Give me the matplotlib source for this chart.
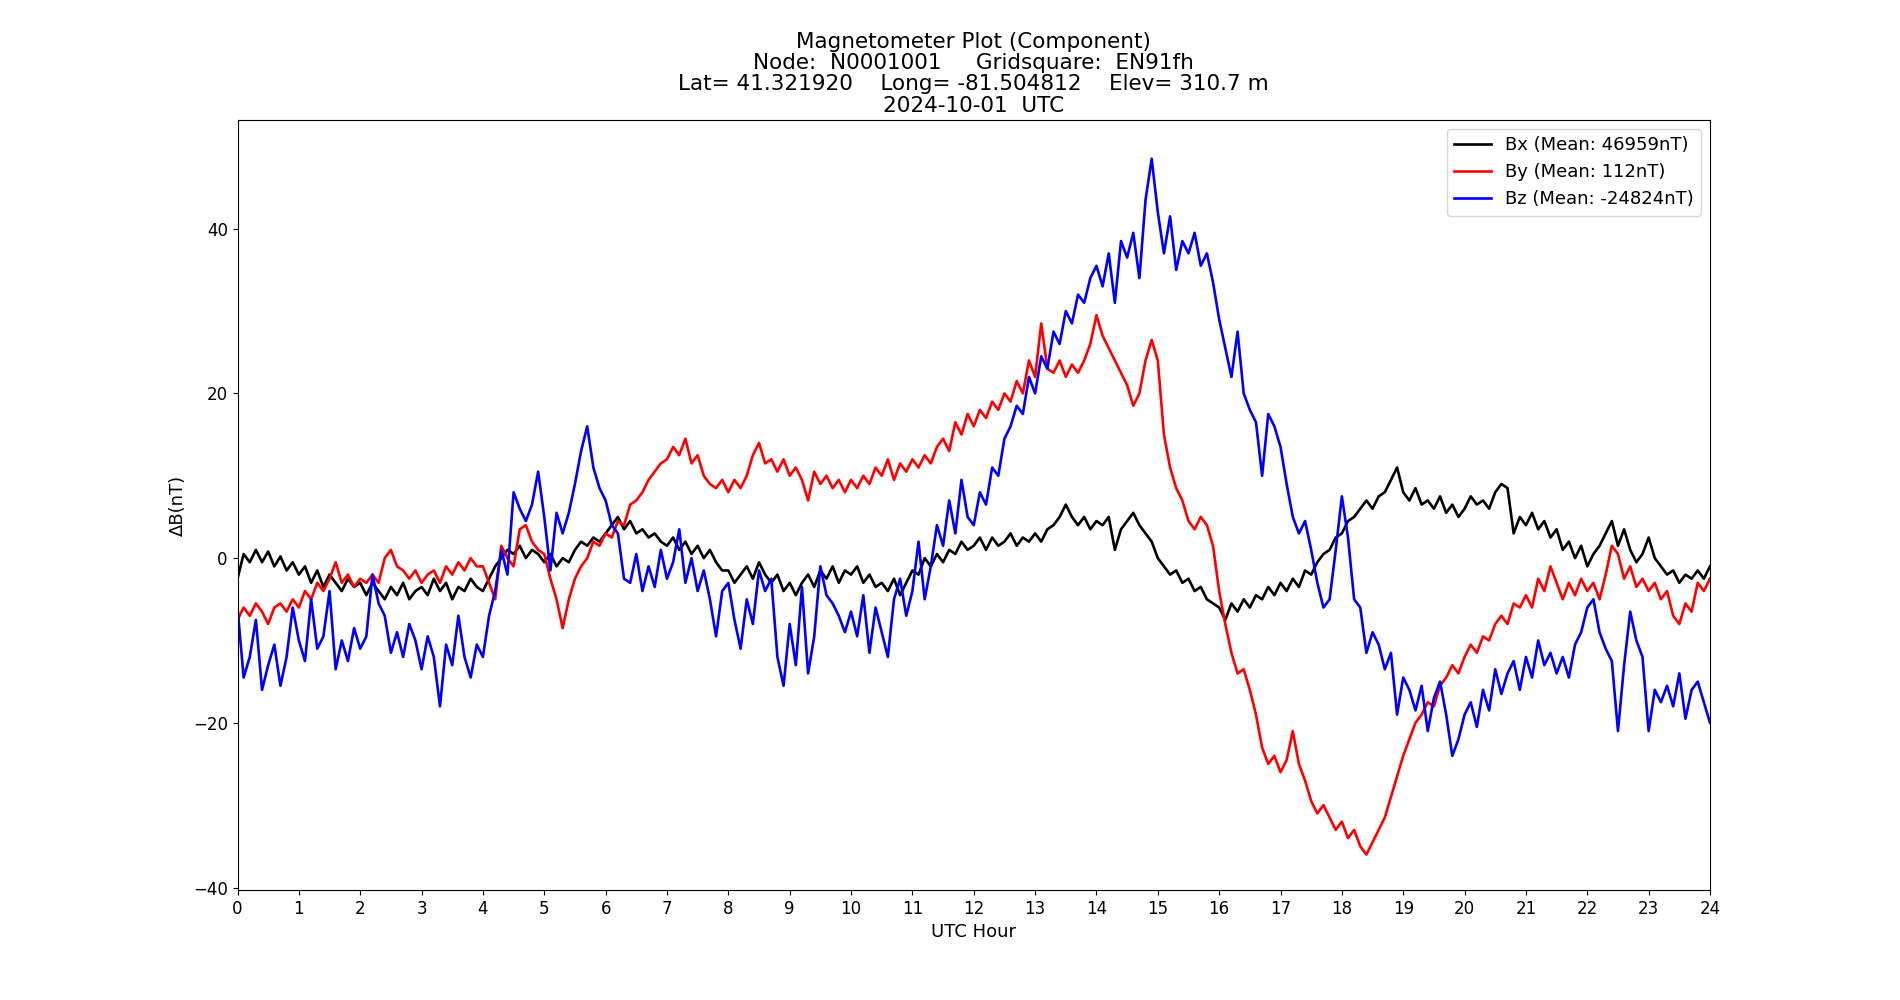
import numpy as np
import matplotlib
matplotlib.use('Agg')
import matplotlib.pyplot as plt

# UTC hour axis, one sample every 0.1 h
hours = np.round(np.arange(0, 241) * 0.1, 1)

bx = [
    -2.5, 0.5, -0.5, 1.0, -0.5, 0.8, -1.0, 0.2, -1.5, -0.5,
    -2.0, -1.0, -3.0, -1.5, -3.5, -2.0, -3.0, -4.0, -2.5, -3.5,
    -3.0, -4.5, -3.0, -4.0, -5.0, -3.5, -4.5, -3.0, -5.0, -4.0,
    -3.5, -4.5, -2.5, -4.0, -3.0, -5.0, -3.5, -4.0, -2.5, -3.5,
    -4.0, -2.5, -1.0, 0.0, 1.0, 0.5, 1.5, 0.0, 1.0, 0.5,
    -0.5, 0.5, -1.0, 0.0, -0.5, 1.0, 2.0, 1.5, 2.5, 2.0,
    3.0, 4.0, 5.0, 3.5, 4.5, 3.0, 3.5, 2.5, 3.0, 2.0,
    1.5, 2.5, 1.0, 2.0, 0.5, 1.5, 0.0, 1.0, -0.5, -1.5,
    -1.5, -3.0, -2.0, -1.0, -2.5, -0.5, -2.0, -3.0, -2.0, -4.0,
    -3.0, -4.5, -3.0, -2.0, -3.5, -1.5, -2.5, -1.0, -3.0, -1.5,
    -2.0, -1.0, -3.0, -2.0, -3.5, -3.0, -4.0, -2.5, -4.5, -3.0,
    -1.5, -2.0, 0.0, -1.0, 0.5, -0.5, 1.0, 0.5, 2.0, 1.0,
    1.5, 2.5, 1.0, 2.5, 1.5, 2.0, 3.0, 1.5, 2.5, 2.0,
    3.0, 2.0, 3.5, 4.0, 5.0, 6.5, 5.0, 4.0, 5.0, 3.5,
    4.5, 4.0, 5.0, 1.0, 3.5, 4.5, 5.5, 4.0, 3.0, 2.0,
    0.0, -1.0, -2.0, -1.5, -3.0, -2.5, -4.0, -3.5, -5.0, -5.5,
    -6.0, -7.5, -5.5, -6.5, -5.0, -6.0, -4.5, -5.0, -3.5, -4.5,
    -3.0, -4.0, -2.5, -3.5, -1.5, -2.0, -0.5, 0.5, 1.0, 2.5,
    3.0, 4.5, 5.0, 6.0, 7.0, 6.0, 7.5, 8.0, 9.5, 11.0,
    8.0, 7.0, 8.5, 6.5, 7.0, 6.0, 7.5, 5.5, 6.5, 5.0,
    6.0, 7.5, 6.5, 7.0, 6.0, 8.0, 9.0, 8.5, 3.0, 5.0,
    4.0, 5.5, 3.5, 4.5, 2.5, 3.5, 1.0, 2.0, 0.0, 1.5,
    -1.0, 0.5, 1.5, 3.0, 4.5, 1.5, 3.5, 1.0, -0.5, 0.5,
    2.5, 0.0, -1.0, -2.0, -1.5, -3.0, -2.0, -2.5, -1.5, -2.5,
    -1.0,
]

by = [
    -7.5, -6.0, -7.0, -5.5, -6.5, -8.0, -6.0, -5.5, -6.5, -5.0,
    -6.0, -4.0, -5.0, -3.0, -4.0, -2.5, -0.5, -3.0, -2.0, -3.5,
    -2.5, -3.0, -2.0, -3.0, 0.0, 1.0, -1.0, -1.5, -2.5, -1.5,
    -3.0, -2.0, -1.5, -3.0, -1.0, -2.0, -0.5, -1.5, 0.0, -1.0,
    -1.0, -3.0, -5.0, 1.5, 0.0, -1.0, 3.5, 4.0, 2.0, 1.0,
    0.5, -2.5, -5.0, -8.5, -5.0, -2.5, -1.0, 0.0, 2.0, 1.5,
    3.0, 2.5, 4.5, 4.0, 6.5, 7.0, 8.0, 9.5, 10.5, 11.5,
    12.0, 13.5, 12.5, 14.5, 11.5, 12.5, 10.0, 9.0, 8.5, 9.5,
    8.0, 9.5, 8.5, 10.0, 12.5, 14.0, 11.5, 12.0, 10.5, 12.0,
    10.0, 11.0, 9.5, 7.0, 10.5, 9.0, 10.0, 8.5, 9.5, 8.0,
    9.5, 8.5, 10.0, 9.0, 11.0, 10.0, 12.0, 9.5, 11.5, 10.5,
    12.0, 11.0, 12.5, 11.5, 13.5, 14.5, 13.0, 16.5, 15.0, 17.5,
    16.0, 18.0, 17.0, 19.0, 18.0, 20.0, 19.0, 21.5, 20.0, 24.0,
    22.0, 28.5, 23.0, 22.5, 24.0, 22.0, 23.5, 22.5, 24.0, 26.0,
    29.5, 27.0, 25.5, 24.0, 22.5, 21.0, 18.5, 20.0, 24.0, 26.5,
    24.0, 15.0, 11.0, 8.5, 7.0, 4.5, 3.5, 5.0, 4.0, 1.5,
    -4.0, -8.0, -11.5, -14.0, -13.5, -16.0, -19.0, -23.0, -25.0, -24.0,
    -26.0, -24.5, -21.0, -25.0, -27.0, -29.5, -31.0, -30.0, -31.5, -33.0,
    -32.0, -34.0, -33.0, -35.0, -36.0, -34.5, -33.0, -31.5, -29.0, -26.5,
    -24.0, -22.0, -20.0, -19.0, -17.5, -18.0, -15.5, -14.5, -13.0, -14.0,
    -12.0, -10.5, -11.5, -9.5, -10.0, -8.0, -7.0, -8.0, -5.5, -6.0,
    -4.5, -6.0, -2.5, -4.0, -1.0, -3.0, -5.0, -3.0, -4.5, -2.5,
    -4.0, -3.0, -5.0, -2.0, 1.5, 0.5, -2.5, -1.0, -3.5, -2.5,
    -4.0, -3.0, -5.0, -4.0, -7.0, -8.0, -5.5, -6.5, -3.0, -4.0,
    -2.5,
]

bz = [
    -6.0, -14.5, -12.0, -7.5, -16.0, -13.0, -10.5, -15.5, -12.0, -6.0,
    -10.0, -12.5, -5.0, -11.0, -9.5, -4.0, -13.5, -10.0, -12.5, -8.5,
    -11.0, -9.5, -2.0, -5.5, -7.0, -11.5, -9.0, -12.0, -8.0, -10.0,
    -13.5, -9.5, -12.0, -18.0, -10.5, -13.0, -7.0, -12.0, -14.5, -10.5,
    -12.0, -7.0, -4.0, 1.0, -2.0, 8.0, 6.0, 4.5, 6.5, 10.5,
    5.0, -1.5, 5.5, 3.0, 5.5, 9.0, 13.0, 16.0, 11.0, 8.5,
    7.0, 4.0, 3.0, -2.5, -3.0, 0.5, -4.0, -1.0, -3.5, 1.0,
    -2.5, -0.5, 3.5, -3.0, 0.0, -4.0, -1.5, -5.0, -9.5, -4.0,
    -3.0, -7.5, -11.0, -5.0, -8.0, -1.5, -4.0, -2.5, -12.0, -15.5,
    -8.0, -13.0, -3.5, -14.0, -9.5, -1.0, -4.5, -5.5, -7.0, -9.0,
    -6.5, -9.5, -4.5, -11.5, -6.0, -9.0, -12.0, -5.0, -2.5, -7.0,
    -4.0, 2.0, -5.0, -1.0, 4.0, 1.5, 7.0, 3.0, 9.5, 5.0,
    4.0, 8.0, 6.5, 11.0, 10.0, 14.5, 16.0, 18.5, 17.5, 22.0,
    20.0, 24.5, 23.0, 27.5, 26.0, 30.0, 28.5, 32.0, 31.0, 34.0,
    35.5, 33.0, 37.0, 31.0, 38.5, 36.5, 39.5, 34.0, 43.5, 48.5,
    42.0, 37.0, 41.5, 35.0, 38.5, 37.0, 39.5, 35.5, 37.0, 33.5,
    29.0, 25.5, 22.0, 27.5, 20.0, 18.0, 16.5, 10.0, 17.5, 16.0,
    13.5, 9.0, 5.0, 3.0, 4.5, 1.0, -3.0, -6.0, -5.0, 1.0,
    7.5, 2.5, -5.0, -6.0, -11.5, -9.0, -10.5, -13.5, -11.5, -19.0,
    -14.5, -16.0, -18.5, -15.5, -21.0, -17.0, -15.0, -19.0, -24.0, -22.0,
    -19.0, -17.5, -20.5, -16.0, -18.5, -13.5, -16.5, -14.0, -12.5, -16.0,
    -12.0, -14.5, -10.0, -13.0, -11.5, -14.0, -12.0, -14.5, -10.5, -9.0,
    -6.0, -5.0, -9.0, -11.0, -12.5, -21.0, -13.0, -6.5, -10.0, -12.0,
    -21.0, -16.0, -17.5, -15.5, -18.0, -14.0, -19.5, -16.0, -15.0, -17.5,
    -20.0,
]

means = {'Bx': 46959, 'By': 112, 'Bz': -24824}

fig, ax = plt.subplots(figsize=(19, 10), dpi=100)

ax.plot(hours, bx, color='black', linewidth=1.9, label=f"Bx (Mean: {means['Bx']}nT)")
ax.plot(hours, by, color='red', linewidth=1.9, label=f"By (Mean: {means['By']}nT)")
ax.plot(hours, bz, color='blue', linewidth=1.9, label=f"Bz (Mean: {means['Bz']}nT)")

title = ('Magnetometer Plot (Component)\n'
         'Node:  N0001001     Gridsquare:  EN91fh\n'
         'Lat= 41.321920    Long= -81.504812    Elev= 310.7 m\n'
         '2024-10-01  UTC')
ax.set_title(title, fontsize=15.5, linespacing=1.08)
ax.set_xlabel('UTC Hour', fontsize=13)
ax.set_ylabel('ΔB(nT)', fontsize=13)
ax.set_xlim(0, 24)
ax.set_ylim(-40.3, 53.2)
ax.set_xticks(range(25))
ax.tick_params(labelsize=12)
ax.legend(loc='upper right', fontsize=13)

plt.savefig('out.png', dpi=100)
